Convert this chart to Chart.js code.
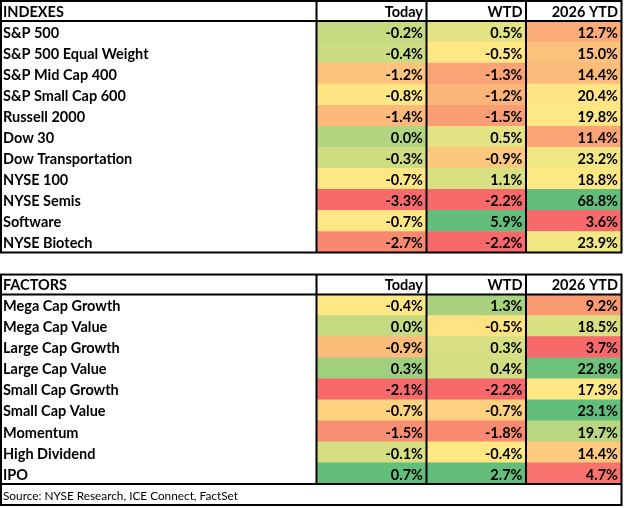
<!DOCTYPE html>
<html><head><meta charset="utf-8">
<script src="https://cdn.jsdelivr.net/npm/chart.js@4.4.1/dist/chart.umd.min.js"></script>
<style>html,body{margin:0;padding:0;background:#fff}#wrap{width:624px;height:508px}</style>
</head><body><div id="wrap"><canvas id="c" width="624" height="508"></canvas></div>
<script>
// ---------- data ----------
const columns = ['Today', 'WTD', '2026 YTD'];

const indexTitle = 'INDEXES';
const indexNames = ['S&P 500', 'S&P 500 Equal Weight', 'S&P Mid Cap 400', 'S&P Small Cap 600', 'Russell 2000', 'Dow 30', 'Dow Transportation', 'NYSE 100', 'NYSE Semis', 'Software', 'NYSE Biotech'];
const indexToday = [-0.2, -0.4, -1.2, -0.8, -1.4, 0.0, -0.3, -0.7, -3.3, -0.7, -2.7];
const indexWTD   = [0.5, -0.5, -1.3, -1.2, -1.5, 0.5, -0.9, 1.1, -2.2, 5.9, -2.2];
const indexYTD   = [12.7, 15.0, 14.4, 20.4, 19.8, 11.4, 23.2, 18.8, 68.8, 3.6, 23.9];

const factorTitle = 'FACTORS';
const factorNames = ['Mega Cap Growth', 'Mega Cap Value', 'Large Cap Growth', 'Large Cap Value', 'Small Cap Growth', 'Small Cap Value', 'Momentum', 'High Dividend', 'IPO'];
const factorToday = [-0.4, 0.0, -0.9, 0.3, -2.1, -0.7, -1.5, -0.1, 0.7];
const factorWTD   = [1.3, -0.5, 0.3, 0.4, -2.2, -0.7, -1.8, -0.4, 2.7];
const factorYTD   = [9.2, 18.5, 3.7, 22.8, 17.3, 23.1, 19.7, 14.4, 4.7];

const sourceText = 'Source: NYSE Research, ICE Connect, FactSet';

// ---------- styles (heat-map cell colours) ----------
const indexTodayColors = ['#C5DA81','#CCDC82','#FDC27D','#FEE683','#FCBA7A','#B1D580','#CEDD82','#FFE884','#F8696B','#FFE884','#F98870'];
const indexWTDColors   = ['#E4E383','#FFE884','#FAA476','#FCB579','#F99D74','#E4E383','#FDC87D','#D8E082','#F8696B','#63BE7B','#F8696B'];
const indexYTDColors   = ['#FBAB77','#FCC17C','#FBBB7A','#FFE583','#FEE884','#FBA476','#F3E784','#FFE884','#63BE7B','#F8696B','#F0E683'];
const factorTodayColors = ['#FFE884','#C6DB81','#FCBD7B','#A0CF7E','#F8696B','#FDD27F','#F98E72','#D5DF82','#63BE7B'];
const factorWTDColors   = ['#A8D27F','#FFE383','#D6DF82','#D3DE82','#F8696B','#FDD17F','#F98A71','#FFE784','#63BE7B'];
const factorYTDColors   = ['#F99A73','#D9E082','#F8696B','#6DC17C','#FFE884','#63BE7B','#B9D780','#FDCB7E','#F8736D'];

// column edges on the linear x scale (0..624)
const colEdges = [0, 316.5, 426.5, 526, 621.5];
const FONT = 'Lato, "Open Sans", sans-serif';

// ---------- row model ----------
const rows = [];
rows.push({type: 'header', title: indexTitle});
indexNames.forEach((n, i) => rows.push({type: 'data', name: n,
  vals: [indexToday[i], indexWTD[i], indexYTD[i]],
  colors: [indexTodayColors[i], indexWTDColors[i], indexYTDColors[i]]}));
rows.push({type: 'gap'});
rows.push({type: 'header', title: factorTitle});
factorNames.forEach((n, i) => rows.push({type: 'data', name: n,
  vals: [factorToday[i], factorWTD[i], factorYTD[i]],
  colors: [factorTodayColors[i], factorWTDColors[i], factorYTDColors[i]]}));
rows.push({type: 'source', text: sourceText});

const datasets = columns.map((c, k) => ({
  label: c,
  data: rows.map(r => r.type === 'data' ? [colEdges[k + 1], colEdges[k + 2]] : null),
  backgroundColor: rows.map(r => r.type === 'data' ? r.colors[k] : 'rgba(0,0,0,0)'),
  borderWidth: 0,
  barPercentage: 1,
  categoryPercentage: 1,
  grouped: false
}));

const tablePlugin = {
  id: 'tablePlugin',
  afterDatasetsDraw(chart) {
    const ctx = chart.ctx, x = chart.scales.x, y = chart.scales.y;
    const band = y.getPixelForValue(1) - y.getPixelForValue(0);
    const top = i => y.getPixelForValue(i) - band / 2;
    const bot = i => y.getPixelForValue(i) + band / 2;
    const X = v => x.getPixelForValue(v);
    ctx.save();
    // text
    rows.forEach((r, i) => {
      const cy = y.getPixelForValue(i) + 1.5;
      ctx.fillStyle = '#000';
      ctx.textBaseline = 'middle';
      if (r.type === 'header') {
        ctx.font = 'bold 14.5px ' + FONT;
        ctx.textAlign = 'left';
        ctx.fillText(r.title, X(colEdges[0]) + 3, cy);
        ctx.textAlign = 'right';
        columns.forEach((c, k) => ctx.fillText(c, X(colEdges[k + 2]) - 3.5, cy));
      } else if (r.type === 'data') {
        ctx.font = 'bold 14.5px ' + FONT;
        ctx.textAlign = 'left';
        ctx.fillText(r.name, X(colEdges[0]) + 3, cy);
        ctx.textAlign = 'right';
        r.vals.forEach((v, k) => ctx.fillText(v.toFixed(1) + '%', X(colEdges[k + 2]) - 3.5, cy));
      } else if (r.type === 'source') {
        ctx.font = '11.8px ' + FONT;
        ctx.textAlign = 'left';
        ctx.fillText(r.text, X(colEdges[0]) + 3, cy);
      }
    });
    // borders
    ctx.strokeStyle = '#000';
    ctx.lineWidth = 2;
    const tables = [];
    let start = null;
    rows.forEach((r, i) => {
      if (r.type === 'header') start = i;
      if (start !== null && (i === rows.length - 1 || rows[i + 1].type === 'gap')) {
        tables.push({s: start, e: i, src: r.type === 'source'});
        start = null;
      }
    });
    const L = X(colEdges[0]) + 1, R = X(colEdges[4]);
    tables.forEach(t => {
      const t0 = top(t.s) + 1, b = bot(t.e);
      const dataEnd = t.src ? bot(t.e - 1) : b;
      ctx.strokeRect(L, t0, R - L, b - t0);
      ctx.beginPath();
      ctx.moveTo(L, bot(t.s)); ctx.lineTo(R, bot(t.s));
      if (t.src) { ctx.moveTo(L, dataEnd); ctx.lineTo(R, dataEnd); }
      for (let k = 1; k <= 3; k++) {
        ctx.moveTo(X(colEdges[k]), t0); ctx.lineTo(X(colEdges[k]), dataEnd);
      }
      ctx.stroke();
    });
    ctx.restore();
  }
};

new Chart(document.getElementById('c'), {
  type: 'bar',
  data: {labels: rows.map((r, i) => String(i)), datasets},
  options: {
    indexAxis: 'y',
    responsive: false,
    animation: false,
    layout: {padding: {left: 0, right: 0, top: 0, bottom: 3}},
    plugins: {legend: {display: false}, tooltip: {enabled: false}},
    scales: {
      x: {type: 'linear', min: 0, max: 624, display: false},
      y: {type: 'category', display: false, offset: true, grid: {display: false}}
    }
  },
  plugins: [tablePlugin]
});
</script>
</body></html>
